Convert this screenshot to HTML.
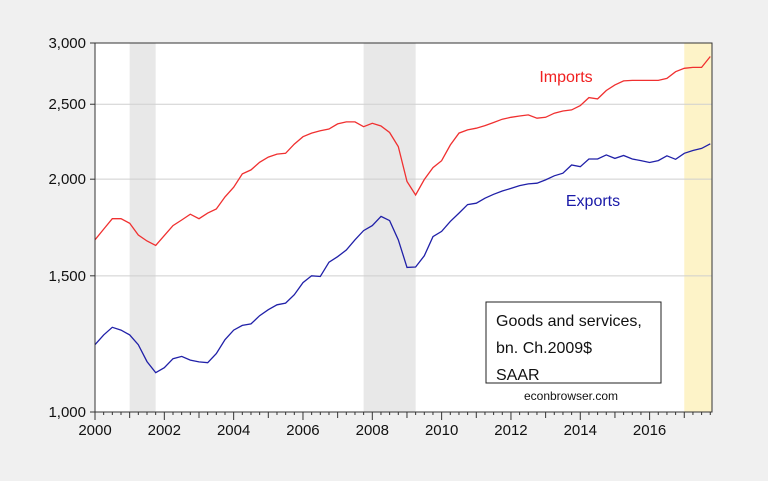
<!DOCTYPE html>
<html><head><meta charset="utf-8"><style>
body{margin:0;background:#f0f0f0;}
svg{display:block;font-family:"Liberation Sans",Arial,sans-serif;}
</style></head><body>
<svg id="c" width="768" height="481" xmlns="http://www.w3.org/2000/svg"></svg>
<script>
const yTickValues=[1000,1500,2000,2500,3000];
const yTickLabels=["1,000","1,500","2,000","2,500","3,000"];
const xTickYears=[2000,2002,2004,2006,2008,2010,2012,2014,2016];
const recessions=[[2001.0,2001.75],[2007.75,2009.25]];
const forecastStart=2017.0;
const imports=[1670,1724,1778,1778,1754,1694,1664,1642,1691,1742,1771,1802,1778,1808,1830,1897,1953,2032,2056,2103,2136,2155,2160,2220,2270,2294,2310,2322,2358,2372,2372,2338,2362,2343,2298,2204,1986,1908,1998,2070,2113,2214,2294,2316,2328,2346,2368,2391,2405,2414,2422,2398,2405,2434,2450,2458,2490,2550,2540,2604,2648,2680,2684,2684,2684,2684,2700,2754,2782,2790,2790,2882];
const exportsS=[1222,1258,1287,1276,1258,1222,1162,1124,1141,1172,1180,1167,1161,1158,1190,1240,1276,1294,1300,1332,1356,1376,1383,1418,1470,1500,1497,1562,1588,1620,1670,1716,1742,1790,1768,1670,1538,1540,1592,1686,1712,1764,1808,1854,1862,1890,1912,1931,1946,1962,1972,1976,1996,2020,2036,2086,2076,2124,2124,2150,2128,2146,2124,2114,2102,2114,2144,2122,2160,2178,2192,2222];

const L=95,R=712,T=43,B=412;
const X0=2000,X1=2017.8;
const x=t=>L+(t-X0)/(X1-X0)*(R-L);
const y=v=>B-(Math.log10(v)-3)/(Math.log10(3000)-3)*(B-T);
const svg=document.getElementById('c');
const NS='http://www.w3.org/2000/svg';
function mk(tag,attrs,parent){const e=document.createElementNS(NS,tag);for(const k in attrs)e.setAttribute(k,attrs[k]);(parent||svg).appendChild(e);return e;}

let e=mk('rect',{x:L,y:T,width:R-L,height:B-T,fill:'#fff'});


recessions.forEach(r=>{
  const s=mk('rect',{x:x(r[0]),y:T,width:x(r[1])-x(r[0]),height:B-T,fill:'#e8e8e8'});
  
  
});
e=mk('rect',{x:x(forecastStart),y:T,width:R-x(forecastStart),height:B-T,fill:'#fdf3c8'});



yTickValues.forEach((v,i)=>{
  if(v>1000&&v<3000){
    const g=mk('line',{x1:L,x2:R,y1:y(v),y2:y(v),stroke:'#cfcfcf','stroke-width':1});
    
    
  }
  const tk=mk('line',{x1:L-5,x2:L,y1:y(v),y2:y(v),stroke:'#333'});
  
  
  const t=mk('text',{x:L-9,y:y(v)+5,'text-anchor':'end','font-size':15,fill:'#111'});
  t.textContent=yTickLabels[i];
  
  
});

for(let q=0;q<=71;q++){
  const t=X0+q/4;
  const len=(q%4===0)?((q/4)%2===0?8:6):3;
  const tk=mk('line',{x1:x(t),x2:x(t),y1:B,y2:B+len,stroke:'#333'});
  
  
}
xTickYears.forEach(yr=>{
  const t=mk('text',{x:x(yr),y:B+23,'text-anchor':'middle','font-size':15,fill:'#111'});
  t.textContent=yr;
  
  
});

function line(arr,color,name){
  const d=arr.map((v,i)=>(i?'L':'M')+x(X0+i/4).toFixed(1)+','+y(v).toFixed(1)).join('');
  const p=mk('path',{d:d,fill:'none',stroke:color,'stroke-width':1.3});
  
  
}
line(imports,'#f03030','imports-line');
line(exportsS,'#2020a8','exports-line');

e=mk('path',{d:`M${L},${B}L${L},${T}L${R},${T}L${R},${B}Z`,fill:'none',stroke:'#333','stroke-width':1});



e=mk('text',{x:566,y:82,'text-anchor':'middle','font-size':16,fill:'#f02020'});e.textContent='Imports';


e=mk('text',{x:593,y:206,'text-anchor':'middle','font-size':16,fill:'#1a1aa8'});e.textContent='Exports';



const g=mk('g',{});


mk('rect',{x:486,y:302,width:175,height:81,fill:'#fff',stroke:'#222'},g);
["Goods and services,","bn. Ch.2009$","SAAR"].forEach((s,i)=>{
  const t=mk('text',{x:496,y:326+i*27,'font-size':16,fill:'#111'},g);
  t.textContent=s;
  
  
});
e=mk('text',{x:571,y:400,'text-anchor':'middle','font-size':12,fill:'#111'});e.textContent='econbrowser.com';


</script>
</body></html>
